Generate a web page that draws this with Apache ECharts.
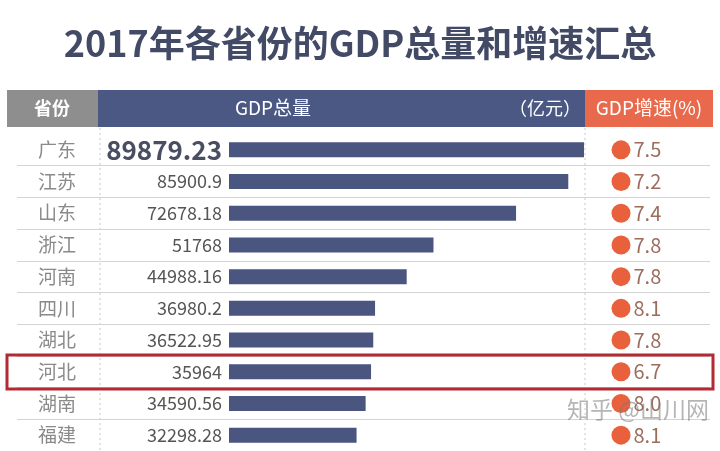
<!DOCTYPE html>
<html>
<head>
<meta charset="utf-8">
<script src="https://cdn.jsdelivr.net/npm/echarts@6/dist/echarts.min.js"></script>
<style>
  html, body { margin: 0; padding: 0; background: #fff; }
  #main { width: 720px; height: 451px; }
</style>
</head>
<body>
<div id="main"></div>
<script>
// 2017年各省份 GDP 数据
var provinces = ['广东', '江苏', '山东', '浙江', '河南', '四川', '湖北', '河北', '湖南', '福建']
var gdp = [89879.23, 85900.9, 72678.18, 51768, 44988.16, 36980.2, 36522.95, 35964, 34590.56, 32298.28]
var gdpText = ['89879.23', '85900.9', '72678.18', '51768', '44988.16', '36980.2', '36522.95', '35964', '34590.56', '32298.28']
var growth = [7.5, 7.2, 7.4, 7.8, 7.8, 8.1, 7.8, 6.7, 8.0, 8.1]

var font = '"Noto Sans CJK SC", "Noto Sans", sans-serif'
var chart = echarts.init(document.getElementById('main'))

var gridTop = 134
var gridH = 319

var barData = gdp.map(function (v, i) {
  var item = { value: v }
  if (i === 0) {
    item.label = { fontSize: 26, fontWeight: 'bold', color: '#4a4e63' }
  }
  return item
})

var option = {
  backgroundColor: '#fff',
  animation: false,
  textStyle: { fontFamily: font },
  grid: [
    { left: 229, width: 355, top: gridTop, height: gridH },
    { left: 611, width: 20, top: gridTop, height: gridH },
    { left: 17, right: 10, top: gridTop, height: gridH }
  ],
  xAxis: [
    { gridIndex: 0, type: 'value', min: 0, max: 89879.23, show: false },
    { gridIndex: 1, type: 'category', data: ['增速'], show: false },
    { gridIndex: 2, type: 'value', show: false }
  ],
  yAxis: [
    {
      gridIndex: 0, type: 'category', data: provinces, inverse: true,
      axisLine: { show: false }, axisTick: { show: false },
      axisLabel: { margin: 172, align: 'center', fontSize: 19, color: '#8a8a8a', fontFamily: font }
    },
    { gridIndex: 1, type: 'category', data: provinces, inverse: true, show: false },
    {
      gridIndex: 2, type: 'category', data: provinces, inverse: true,
      axisLine: { show: false }, axisTick: { show: false }, axisLabel: { show: false },
      splitLine: {
        show: true,
        interval: function (i) { return i > 0 },
        lineStyle: { color: '#d4d4d4', width: 1 }
      }
    }
  ],
  graphic: [
    {
      type: 'text', left: 'center', top: 25,
      style: { text: '2017年各省份的GDP总量和增速汇总', fontSize: 36, fontWeight: 'bold', fill: '#434a66', fontFamily: font }
    },
    // 表头
    { type: 'rect', shape: { x: 7, y: 90, width: 91, height: 37 }, style: { fill: '#8e8e8e' } },
    { type: 'rect', shape: { x: 98, y: 90, width: 487, height: 37 }, style: { fill: '#4b5884' } },
    { type: 'rect', shape: { x: 585, y: 90, width: 128, height: 37 }, style: { fill: '#e9694c' } },
    { type: 'text', x: 52, y: 108, style: { text: '省份', fontSize: 18, fontWeight: 'bold', fill: '#fff', align: 'center', verticalAlign: 'middle', fontFamily: font } },
    { type: 'text', x: 273, y: 108, style: { text: 'GDP总量', fontSize: 19, fill: '#fff', align: 'center', verticalAlign: 'middle', fontFamily: font } },
    { type: 'text', x: 581, y: 108, style: { text: '（亿元）', fontSize: 18, fill: '#fff', align: 'right', verticalAlign: 'middle', fontFamily: font } },
    { type: 'text', x: 649, y: 108, style: { text: 'GDP增速(%)', fontSize: 19, fill: '#fff', align: 'center', verticalAlign: 'middle', fontFamily: font } },
    // 分隔虚线
    { type: 'line', shape: { x1: 100, y1: 128, x2: 100, y2: 451 }, style: { stroke: '#c8c8c8', lineWidth: 1, lineDash: [2, 3] } },
    { type: 'line', shape: { x1: 585, y1: 128, x2: 585, y2: 451 }, style: { stroke: '#c8c8c8', lineWidth: 1, lineDash: [2, 3] } },
    // 河北 高亮框
    { type: 'rect', z: 100, shape: { x: 7, y: 355, width: 706, height: 34 }, style: { fill: 'none', stroke: '#b22a32', lineWidth: 3 } },
    // 水印
    { type: 'text', z: 100, x: 567, y: 398, style: { text: '知乎 @山川网', fontSize: 23, fill: 'rgba(120,120,120,0.55)', fontFamily: font } }
  ],
  series: [
    {
      type: 'bar',
      xAxisIndex: 0, yAxisIndex: 0,
      data: barData,
      barWidth: 15,
      itemStyle: { color: '#4a5580' },
      label: {
        show: true, position: 'left', distance: 7,
        fontSize: 18, color: '#555',
        fontFamily: font,
        formatter: function (p) { return gdpText[p.dataIndex] }
      }
    },
    {
      type: 'scatter',
      xAxisIndex: 1, yAxisIndex: 1,
      data: growth.map(function (g, i) { return ['增速', provinces[i], g] }),
      symbolSize: 19,
      itemStyle: { color: '#e8603c', opacity: 1 },
      label: {
        show: true, position: 'right', distance: 3,
        fontSize: 20, color: '#9c6d5d', fontFamily: font,
        formatter: function (p) { return p.value[2].toFixed(1) }
      }
    }
  ]
}

chart.setOption(option)
</script>
</body>
</html>
